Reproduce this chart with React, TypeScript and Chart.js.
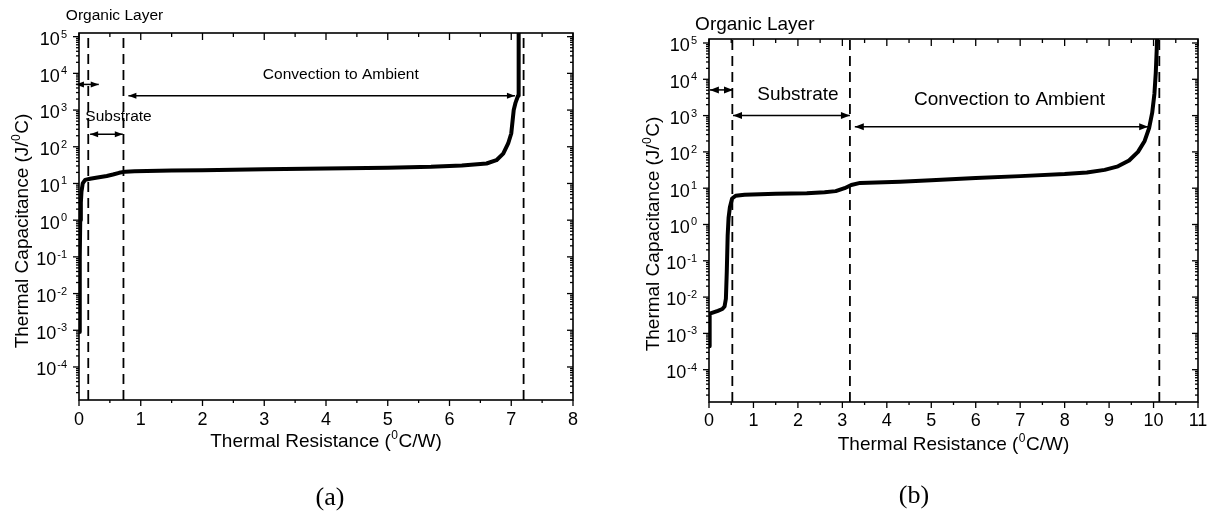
import React, { useEffect, useRef } from 'react';
import { Chart, registerables } from 'chart.js';

Chart.register(...registerables);

const SANS = '"Liberation Sans", Arial, Helvetica, sans-serif';
const SERIF = '"Liberation Serif", "Times New Roman", serif';

// ---------------- Panel (a) ----------------
const A_RES = [0.005, 0.01, 0.015, 0.02, 0.03, 0.04, 0.06, 0.1, 0.18, 0.3, 0.45, 0.55, 0.65, 0.75, 0.9, 1.5, 2, 3, 4, 5, 5.7, 6.2, 6.6, 6.76, 6.87, 6.95, 7.0, 7.04, 7.07, 7.11, 7.12, 7.12];
const A_CAP = [9e-4, 0.01, 0.1, 1, 3, 6, 10, 12.5, 13.5, 14.5, 16, 17.5, 19.5, 21, 21.5, 22.5, 23, 24.5, 25.5, 27, 28.5, 31, 35, 43, 65, 123, 230, 1000, 1600, 2450, 8000, 1.3e5];
const A_DASH_X = [0.15, 0.72, 7.2];
const A_X_TICKS = [0, 1, 2, 3, 4, 5, 6, 7, 8];
const A_Y_EXP = [-4, -3, -2, -1, 0, 1, 2, 3, 4, 5];
const A_ARROW_X1 = [-0.05, 0.18, 0.8];
const A_ARROW_X2 = [0.32, 0.71, 7.06];
const A_ARROW_Y = [5000, 220, 2450];
const A_LABELS = ['Organic Layer', 'Substrate', 'Convection to Ambient'];
const A_LABEL_X = [0.575, 0.64, 4.24];
const A_LABEL_Y = [3.7e5, 650, 9000];

// ---------------- Panel (b) ----------------
const B_RES = [0.005, 0.01, 0.02, 0.1, 0.2, 0.3, 0.35, 0.38, 0.4, 0.42, 0.44, 0.47, 0.52, 0.6, 0.8, 1.5, 2.2, 2.6, 2.85, 3.05, 3.2, 3.4, 4.3, 5, 6, 7, 8, 8.5, 8.9, 9.2, 9.45, 9.65, 9.8, 9.9, 9.97, 10.02, 10.05, 10.07, 10.08];
const B_CAP = [4.4e-4, 1.5e-3, 3.5e-3, 3.8e-3, 4.2e-3, 4.7e-3, 5.5e-3, 9e-3, 0.05, 0.5, 1.5, 3, 5.2, 6.2, 6.6, 7, 7.3, 7.7, 8.3, 10, 12.3, 14, 15, 16.5, 19, 21.5, 24.5, 27, 32, 40, 58, 100, 200, 450, 1200, 4000, 15000, 60000, 1.3e5];
const B_DASH_X = [0.525, 3.17, 10.13];
const B_X_TICKS = [0, 1, 2, 3, 4, 5, 6, 7, 8, 9, 10, 11];
const B_Y_EXP = [-4, -3, -2, -1, 0, 1, 2, 3, 4, 5];
const B_ARROW_X1 = [0.02, 0.54, 3.28];
const B_ARROW_X2 = [0.54, 3.17, 9.88];
const B_ARROW_Y = [5100, 1000, 490];
const B_LABELS = ['Organic Layer', 'Substrate', 'Convection to Ambient'];
const B_LABEL_X = [1.03, 2.0, 6.76];
const B_LABEL_Y = [3.2e5, 3700, 2700];

interface PanelCfg {
  res: number[]; cap: number[]; dashX: number[];
  xTicks: number[]; yExp: number[];
  yMin: number; yMax: number;
  arrowX1: number[]; arrowX2: number[]; arrowY: number[]; headLen: number; headHalf: number;
  labels: string[]; labelX: number[]; labelY: number[]; labelSize: number;
  pad: { left: number; right: number; top: number; bottom: number };
  yTitleX: number; yTitleY: number; xTitleY: number; xTickY: number;
  panelText: string; panelX: number; panelY: number;
  left: number;
}

type Part = { t: string; sup?: boolean };

function drawRich(ctx: CanvasRenderingContext2D, parts: Part[], x: number, baseline: number, size: number, supSize: number, align: 'left' | 'center' | 'right') {
  const widths = parts.map(p => {
    ctx.font = `${p.sup ? supSize : size}px ${SANS}`;
    return ctx.measureText(p.t).width + (p.sup ? 1 : 0);
  });
  const total = widths.reduce((a, b) => a + b, 0);
  let cx = align === 'left' ? x : align === 'center' ? x - total / 2 : x - total;
  ctx.textAlign = 'left';
  ctx.textBaseline = 'alphabetic';
  parts.forEach((p, i) => {
    ctx.font = `${p.sup ? supSize : size}px ${SANS}`;
    ctx.fillText(p.t, cx + (p.sup ? 0.5 : 0), p.sup ? baseline - size * 0.42 : baseline);
    cx += widths[i];
  });
}

function makeDecor(cfg: PanelCfg) {
  return {
    id: 'decor',
    afterDraw(chart: any) {
      const ctx: CanvasRenderingContext2D = chart.ctx;
      const xs = chart.scales.x;
      const ys = chart.scales.y;
      const { left, right, top, bottom } = chart.chartArea;
      ctx.save();
      ctx.strokeStyle = '#000';
      ctx.fillStyle = '#000';
      const seg = (x1: number, y1: number, x2: number, y2: number) => {
        ctx.beginPath(); ctx.moveTo(x1, y1); ctx.lineTo(x2, y2); ctx.stroke();
      };
      // frame
      ctx.lineWidth = 1.6;
      ctx.strokeRect(left, top, right - left, bottom - top);
      // x ticks (major + half minor)
      ctx.lineWidth = 1.3;
      const xMax = cfg.xTicks[cfg.xTicks.length - 1];
      for (let k = 0; k <= xMax * 2; k++) {
        const v = k / 2;
        const px = xs.getPixelForValue(v);
        const major = k % 2 === 0;
        seg(px, bottom, px, bottom + (major ? 6 : 3));
        seg(px, top, px, top + (major ? 7 : 4));
      }
      // y ticks (decades + minor)
      for (let e = -6; e <= 6; e++) {
        for (let m = 1; m <= 9; m++) {
          const v = m * Math.pow(10, e);
          if (v < cfg.yMin || v > cfg.yMax) continue;
          const py = ys.getPixelForValue(v);
          const len = m === 1 ? 6 : 3;
          seg(left - len, py, left, py);
          seg(right - len, py, right, py);
        }
      }
      // arrowheads
      cfg.arrowY.forEach((yv, i) => {
        const py = ys.getPixelForValue(yv);
        const p1 = xs.getPixelForValue(cfg.arrowX1[i]);
        const p2 = xs.getPixelForValue(cfg.arrowX2[i]);
        ctx.beginPath();
        ctx.moveTo(p1, py); ctx.lineTo(p1 + cfg.headLen, py - cfg.headHalf); ctx.lineTo(p1 + cfg.headLen, py + cfg.headHalf); ctx.closePath(); ctx.fill();
        ctx.beginPath();
        ctx.moveTo(p2, py); ctx.lineTo(p2 - cfg.headLen, py - cfg.headHalf); ctx.lineTo(p2 - cfg.headLen, py + cfg.headHalf); ctx.closePath(); ctx.fill();
      });
      // x tick labels
      ctx.font = `18px ${SANS}`;
      ctx.textAlign = 'center';
      ctx.textBaseline = 'middle';
      cfg.xTicks.forEach(v => {
        ctx.fillText(String(v), xs.getPixelForValue(v), cfg.xTickY);
      });
      // y tick labels 10^e
      cfg.yExp.forEach(e => {
        const py = ys.getPixelForValue(Math.pow(10, e));
        ctx.font = `18px ${SANS}`;
        const w10 = ctx.measureText('10').width;
        ctx.font = `11px ${SANS}`;
        const ws = ctx.measureText(String(e)).width;
        const r = left - 12;
        ctx.textAlign = 'left';
        ctx.textBaseline = 'alphabetic';
        ctx.font = `18px ${SANS}`;
        ctx.fillText('10', r - ws - 1 - w10, py + 8.4);
        ctx.font = `11px ${SANS}`;
        ctx.fillText(String(e), r - ws, py + 1);
      });
      // axis titles
      drawRich(ctx, [{ t: 'Thermal Resistance (' }, { t: '0', sup: true }, { t: 'C/W)' }], (left + right) / 2, cfg.xTitleY + 6.7, 19, 12, 'center');
      ctx.save();
      ctx.translate(cfg.yTitleX, cfg.yTitleY);
      ctx.rotate(-Math.PI / 2);
      drawRich(ctx, [{ t: 'Thermal Capacitance (J/' }, { t: '0', sup: true }, { t: 'C)' }], 0, 6.7, 19, 12, 'center');
      ctx.restore();
      // annotation labels
      ctx.font = `${cfg.labelSize}px ${SANS}`;
      ctx.textAlign = 'center';
      ctx.textBaseline = 'middle';
      cfg.labels.forEach((t, i) => {
        ctx.fillText(t, xs.getPixelForValue(cfg.labelX[i]), ys.getPixelForValue(cfg.labelY[i]));
      });
      // panel label
      ctx.font = `26px ${SERIF}`;
      ctx.textAlign = 'center';
      ctx.textBaseline = 'middle';
      ctx.fillText(cfg.panelText, cfg.panelX, cfg.panelY);
      ctx.restore();
    },
  };
}

function buildConfig(cfg: PanelCfg): any {
  const datasets: any[] = [];
  datasets.push({
    data: cfg.res.map((x, i) => ({ x, y: cfg.cap[i] })),
    borderColor: '#000', borderWidth: 4, pointRadius: 0, tension: 0,
    borderJoinStyle: 'round', borderCapStyle: 'round', fill: false,
  });
  cfg.dashX.forEach(x => datasets.push({
    data: [{ x, y: cfg.yMin }, { x, y: cfg.yMax }],
    borderColor: '#000', borderWidth: 1.8, borderDash: [10, 6], pointRadius: 0, fill: false,
  }));
  cfg.arrowX1.forEach((x1, i) => datasets.push({
    data: [{ x: x1, y: cfg.arrowY[i] }, { x: cfg.arrowX2[i], y: cfg.arrowY[i] }],
    borderColor: '#000', borderWidth: 1.5, pointRadius: 0, fill: false, clip: false,
  }));
  const xMax = cfg.xTicks[cfg.xTicks.length - 1];
  return {
    type: 'line',
    data: { datasets },
    options: {
      animation: false,
      responsive: false,
      maintainAspectRatio: false,
      devicePixelRatio: 1,
      events: [],
      layout: { padding: cfg.pad },
      plugins: { legend: { display: false }, tooltip: { enabled: false } },
      scales: {
        x: {
          type: 'linear', min: 0, max: xMax,
          grid: { display: false }, border: { display: false }, ticks: { display: false },
          afterFit: (s: any) => { s.height = 60; },
        },
        y: {
          type: 'logarithmic', min: cfg.yMin, max: cfg.yMax,
          grid: { display: false }, border: { display: false }, ticks: { display: false },
          afterFit: (s: any) => { s.width = 60; },
        },
      },
    },
    plugins: [makeDecor(cfg)],
  };
}

const PANEL_A: PanelCfg = {
  res: A_RES, cap: A_CAP, dashX: A_DASH_X, xTicks: A_X_TICKS, yExp: A_Y_EXP,
  yMin: Math.pow(10, -4.9), yMax: Math.pow(10, 5.1),
  arrowX1: A_ARROW_X1, arrowX2: A_ARROW_X2, arrowY: A_ARROW_Y, headLen: 8, headHalf: 3,
  labels: A_LABELS, labelX: A_LABEL_X, labelY: A_LABEL_Y, labelSize: 15.5,
  pad: { left: 19, right: 32, top: 33, bottom: 57 },
  yTitleX: 21, yTitleY: 231, xTitleY: 440, xTickY: 420,
  panelText: '(a)', panelX: 330, panelY: 498, left: 0,
};

const PANEL_B: PanelCfg = {
  res: B_RES, cap: B_CAP, dashX: B_DASH_X, xTicks: B_X_TICKS, yExp: B_Y_EXP,
  yMin: Math.pow(10, -4.89), yMax: Math.pow(10, 5.11),
  arrowX1: B_ARROW_X1, arrowX2: B_ARROW_X2, arrowY: B_ARROW_Y, headLen: 9, headHalf: 3.5,
  labels: B_LABELS, labelX: B_LABEL_X, labelY: B_LABEL_Y, labelSize: 19,
  pad: { left: 44, right: 12, top: 39, bottom: 55 },
  yTitleX: 47.5, yTitleY: 234, xTitleY: 443, xTickY: 421.5,
  panelText: '(b)', panelX: 309, panelY: 496, left: 605,
};

function Panel({ cfg }: { cfg: PanelCfg }) {
  const ref = useRef<HTMLCanvasElement | null>(null);
  useEffect(() => {
    if (!ref.current) return;
    const chart = new Chart(ref.current, buildConfig(cfg));
    return () => chart.destroy();
  }, [cfg]);
  return (
    <canvas
      ref={ref}
      width={605}
      height={517}
      style={{ position: 'absolute', left: cfg.left, top: 0, width: 605, height: 517 }}
    />
  );
}

export default function App() {
  return (
    <div style={{ position: 'absolute', left: 0, top: 0, width: 1210, height: 517, background: '#fff', overflow: 'hidden' }}>
      <Panel cfg={PANEL_A} />
      <Panel cfg={PANEL_B} />
    </div>
  );
}
